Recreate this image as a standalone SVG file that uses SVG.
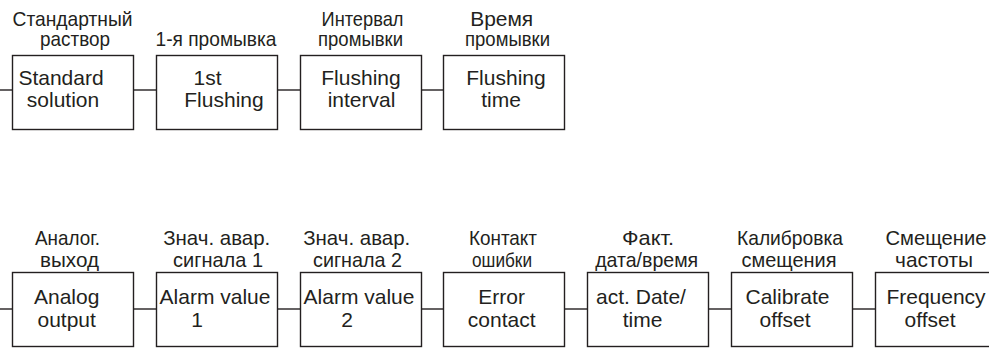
<svg xmlns="http://www.w3.org/2000/svg" width="989" height="348" viewBox="0 0 989 348">
<style>
.box{fill:#fff;stroke:#231f20;stroke-width:1.4}
.ln{stroke:#231f20;stroke-width:1.4;fill:none}
text{font-family:"Liberation Sans",Arial,sans-serif;font-size:21px;fill:#231f20;text-anchor:middle}
</style>
<rect width="989" height="348" fill="#fff"/>
<g id="connectors">
<line class="ln" x1="0" y1="90" x2="12" y2="90"/>
<line class="ln" x1="133" y1="90" x2="156" y2="90"/>
<line class="ln" x1="277" y1="90" x2="300" y2="90"/>
<line class="ln" x1="421" y1="90" x2="443" y2="90"/>
<line class="ln" x1="0" y1="309" x2="12" y2="309"/>
<line class="ln" x1="133" y1="309" x2="156" y2="309"/>
<line class="ln" x1="277" y1="309" x2="300" y2="309"/>
<line class="ln" x1="421" y1="309" x2="443" y2="309"/>
<line class="ln" x1="565" y1="309" x2="587" y2="309"/>
<line class="ln" x1="709" y1="309" x2="731" y2="309"/>
<line class="ln" x1="853" y1="309" x2="876" y2="309"/>
</g>
<g id="standard-solution">
<text x="72.5" y="26" textLength="120" lengthAdjust="spacingAndGlyphs">Стандартный</text><text x="75" y="46" textLength="70" lengthAdjust="spacingAndGlyphs">раствор</text>
<rect class="box" x="12.5" y="55.5" width="121" height="74"/>
<text x="61" y="85">Standard</text><text x="63" y="107">solution</text>
</g>
<g id="first-flushing">
<text x="216" y="46" textLength="121" lengthAdjust="spacingAndGlyphs">1-я промывка</text>
<rect class="box" x="156.5" y="55.5" width="121" height="74"/>
<text x="207.5" y="85">1st</text><text x="224" y="107">Flushing</text>
</g>
<g id="flushing-interval">
<text x="362.5" y="26" textLength="82" lengthAdjust="spacingAndGlyphs">Интервал</text><text x="360.5" y="46" textLength="85" lengthAdjust="spacingAndGlyphs">промывки</text>
<rect class="box" x="300.5" y="55.5" width="121" height="74"/>
<text x="361" y="85">Flushing</text><text x="361.5" y="107">interval</text>
</g>
<g id="flushing-time">
<text x="501.7" y="26" textLength="63" lengthAdjust="spacingAndGlyphs">Время</text><text x="507.5" y="46" textLength="85" lengthAdjust="spacingAndGlyphs">промывки</text>
<rect class="box" x="443.5" y="55.5" width="121" height="74"/>
<text x="506" y="85">Flushing</text><text x="501" y="107">time</text>
</g>
<g id="analog-output">
<text x="67.5" y="244.5" textLength="65" lengthAdjust="spacingAndGlyphs">Аналог.</text><text x="69.5" y="266.7" textLength="59" lengthAdjust="spacingAndGlyphs">выход</text>
<rect class="box" x="12.5" y="272.5" width="121" height="74"/>
<text x="66.7" y="304">Analog</text><text x="66.7" y="326.5">output</text>
</g>
<g id="alarm-value-1">
<text x="216.7" y="244.5" textLength="107" lengthAdjust="spacingAndGlyphs">Знач. авар.</text><text x="218" y="266.7" textLength="90" lengthAdjust="spacingAndGlyphs">сигнала 1</text>
<rect class="box" x="156.5" y="272.5" width="121" height="74"/>
<text x="215" y="304">Alarm value</text><text x="197" y="326.5">1</text>
</g>
<g id="alarm-value-2">
<text x="356.7" y="244.5" textLength="107" lengthAdjust="spacingAndGlyphs">Знач. авар.</text><text x="357.5" y="266.7" textLength="89" lengthAdjust="spacingAndGlyphs">сигнала 2</text>
<rect class="box" x="300.5" y="272.5" width="121" height="74"/>
<text x="359" y="304">Alarm value</text><text x="347" y="326.5">2</text>
</g>
<g id="error-contact">
<text x="503" y="244.5" textLength="68" lengthAdjust="spacingAndGlyphs">Контакт</text><text x="502" y="266.7" textLength="60" lengthAdjust="spacingAndGlyphs">ошибки</text>
<rect class="box" x="443.5" y="272.5" width="121" height="74"/>
<text x="501.7" y="304">Error</text><text x="501.7" y="326.5">contact</text>
</g>
<g id="act-date-time">
<text x="648" y="244.5" textLength="52" lengthAdjust="spacingAndGlyphs">Факт.</text><text x="646.7" y="266.7" textLength="103" lengthAdjust="spacingAndGlyphs">дата/время</text>
<rect class="box" x="587.5" y="272.5" width="121" height="74"/>
<text x="641" y="304">act. Date/</text><text x="642.5" y="326.5">time</text>
</g>
<g id="calibrate-offset">
<text x="790" y="244.5" textLength="106" lengthAdjust="spacingAndGlyphs">Калибровка</text><text x="789" y="266.7" textLength="95" lengthAdjust="spacingAndGlyphs">смещения</text>
<rect class="box" x="731.5" y="272.5" width="121" height="74"/>
<text x="787.5" y="304">Calibrate</text><text x="785" y="326.5">offset</text>
</g>
<g id="frequency-offset">
<text x="936" y="244.5" textLength="101" lengthAdjust="spacingAndGlyphs">Смещение</text><text x="934" y="266.7" textLength="78" lengthAdjust="spacingAndGlyphs">частоты</text>
<rect class="box" x="875.5" y="272.5" width="121" height="74"/>
<text x="936" y="304">Frequency</text><text x="930" y="326.5">offset</text>
</g>
</svg>
